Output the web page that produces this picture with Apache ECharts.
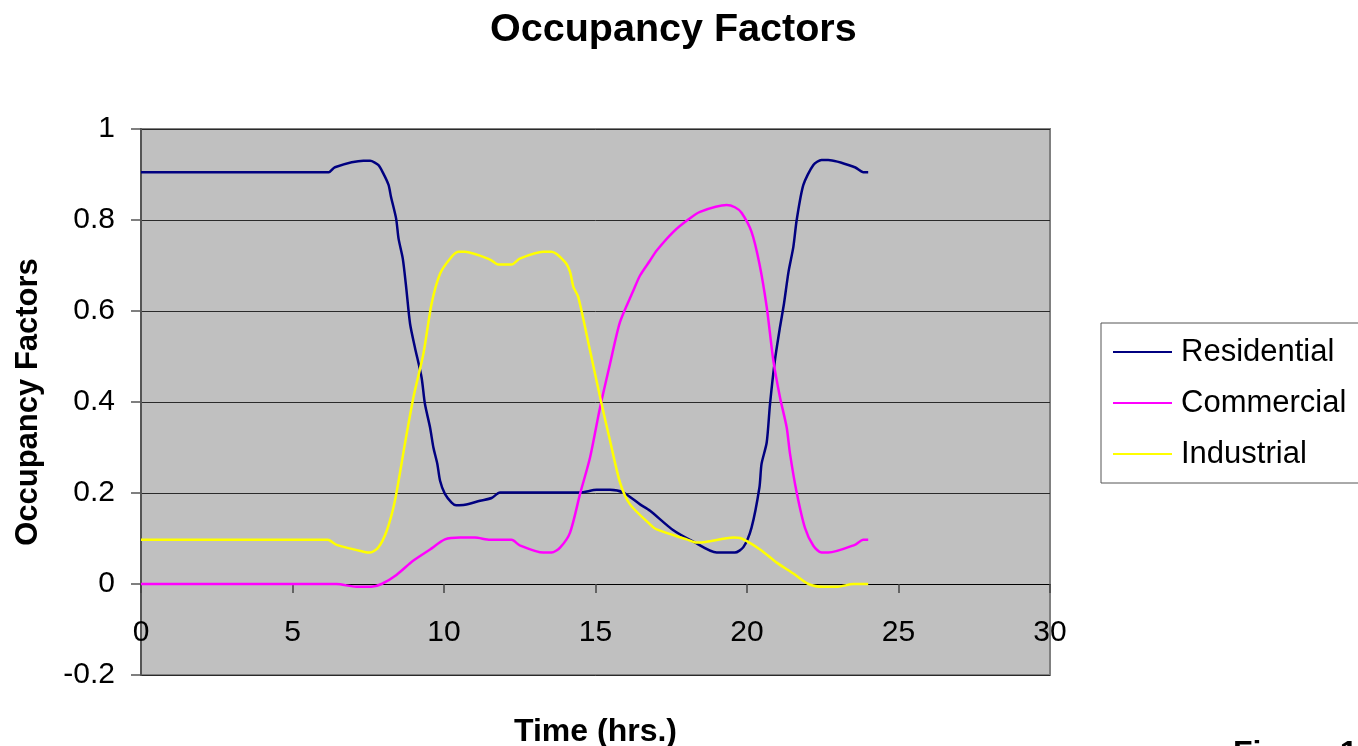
<!DOCTYPE html>
<html>
<head>
<meta charset="utf-8">
<script src="https://cdn.jsdelivr.net/npm/echarts@6/dist/echarts.min.js"></script>
<style>
html,body{margin:0;padding:0;background:#fff;}
#chart{width:1358px;height:746px;}
</style>
</head>
<body>
<div id="chart"></div>
<script>
// ---- data (hours, occupancy factor) ----
const seriesNames = ['Residential', 'Commercial', 'Industrial'];

const residentialHours = [0, 2, 4, 6, 6.2, 6.4, 7.34, 7.56, 7.83, 8.0, 8.17, 8.25, 8.42, 8.5, 8.64, 8.75, 8.88, 9.04, 9.26, 9.37, 9.54, 9.65, 9.78, 9.87, 10.03, 10.25, 10.4, 10.69, 11.19, 11.57, 11.85, 14.49, 15.04, 15.48, 15.92, 16.47, 16.8, 17.57, 18.23, 19.0, 19.6, 19.88, 20.15, 20.41, 20.48, 20.65, 20.76, 20.92, 21.09, 21.22, 21.37, 21.53, 21.64, 21.86, 22.19, 22.46, 22.68, 23.56, 23.84, 24];
const residentialValues = [0.905, 0.905, 0.905, 0.905, 0.905, 0.916, 0.930, 0.930, 0.921, 0.902, 0.877, 0.851, 0.803, 0.759, 0.715, 0.653, 0.572, 0.520, 0.454, 0.396, 0.344, 0.300, 0.264, 0.227, 0.198, 0.179, 0.173, 0.174, 0.183, 0.189, 0.201, 0.201, 0.207, 0.207, 0.201, 0.175, 0.161, 0.118, 0.093, 0.069, 0.069, 0.081, 0.124, 0.212, 0.264, 0.311, 0.396, 0.491, 0.565, 0.616, 0.686, 0.741, 0.800, 0.877, 0.921, 0.932, 0.932, 0.916, 0.905, 0.905];

const commercialHours = [0, 6.45, 7.1, 7.6, 7.94, 8.43, 8.98, 9.54, 10.03, 10.53, 11.02, 11.52, 12.23, 12.5, 13.28, 13.55, 13.83, 14.16, 14.49, 14.82, 15.15, 15.48, 15.81, 16.25, 16.47, 16.8, 17.02, 17.57, 18.06, 18.45, 19.33, 19.6, 19.82, 20.15, 20.41, 20.65, 20.87, 21.09, 21.31, 21.42, 21.64, 21.91, 22.19, 22.46, 22.68, 23.56, 23.84, 24];
const commercialValues = [0, 0, -0.006, -0.006, 0, 0.020, 0.051, 0.076, 0.098, 0.102, 0.102, 0.097, 0.097, 0.085, 0.069, 0.069, 0.080, 0.113, 0.198, 0.278, 0.388, 0.484, 0.576, 0.645, 0.678, 0.711, 0.733, 0.774, 0.801, 0.818, 0.833, 0.828, 0.816, 0.774, 0.704, 0.609, 0.491, 0.410, 0.344, 0.286, 0.201, 0.124, 0.084, 0.069, 0.069, 0.086, 0.097, 0.097];

const industrialHours = [0, 6.17, 6.46, 7.34, 7.56, 7.83, 8.11, 8.38, 8.71, 8.99, 9.32, 9.59, 9.87, 10.2, 10.47, 10.69, 11.52, 11.79, 12.23, 12.5, 13.28, 13.55, 13.99, 14.16, 14.27, 14.43, 14.82, 15.2, 15.48, 15.81, 16.14, 16.8, 17.02, 18.01, 18.34, 18.67, 19.55, 19.77, 20.43, 20.98, 21.53, 22.03, 22.52, 23.0, 23.51, 24];
const industrialValues = [0.097, 0.097, 0.086, 0.071, 0.069, 0.080, 0.117, 0.183, 0.308, 0.410, 0.506, 0.616, 0.682, 0.715, 0.730, 0.730, 0.713, 0.702, 0.702, 0.715, 0.730, 0.730, 0.708, 0.686, 0.653, 0.631, 0.513, 0.396, 0.315, 0.223, 0.175, 0.131, 0.120, 0.098, 0.091, 0.093, 0.102, 0.101, 0.076, 0.047, 0.023, 0, -0.006, -0.006, 0, 0];

const xTicks = [0, 5, 10, 15, 20, 25, 30];
const yTicks = [-0.2, 0, 0.2, 0.4, 0.6, 0.8, 1];

// ---- chart ----
const FONT = '"Liberation Sans", Arial, sans-serif';
const colors = ['#000080', '#ff00ff', '#ffff00'];
const pairs = (hs, vs) => hs.map((h, i) => [h, vs[i]]);
const allHours = [residentialHours, commercialHours, industrialHours];
const allValues = [residentialValues, commercialValues, industrialValues];

const chart = echarts.init(document.getElementById('chart'), null, {renderer: 'canvas'});
chart.setOption({
  animation: false,
  backgroundColor: '#ffffff',
  textStyle: {fontFamily: FONT},
  title: {
    text: 'Occupancy Factors',
    left: 485, top: 5,
    textStyle: {fontFamily: FONT, fontSize: 39.5, fontWeight: 'bold', color: '#000'}
  },
  legend: {
    orient: 'vertical',
    left: 1101, top: 323,
    padding: [12, 40, 12, 12],
    itemGap: 17,
    itemWidth: 59, itemHeight: 2,
    icon: 'rect',
    borderColor: '#555', borderWidth: 1,
    backgroundColor: '#fff',
    textStyle: {fontFamily: FONT, fontSize: 31, color: '#000', lineHeight: 34, padding: [0, 0, 0, 4]},
    data: seriesNames
  },
  grid: {
    left: 141, top: 129, width: 909, height: 546,
    show: true, backgroundColor: '#c0c0c0', borderColor: '#808080', borderWidth: 2,
    containLabel: false,
    outerBoundsMode: 'none'
  },
  xAxis: {
    type: 'value', min: xTicks[0], max: xTicks[xTicks.length - 1], interval: 5,
    name: 'Time (hrs.)', nameLocation: 'middle', nameGap: 41,
    nameTextStyle: {fontFamily: FONT, fontSize: 32, fontWeight: 'bold', color: '#000'},
    axisLine: {onZero: true, lineStyle: {color: '#000', width: 1}},
    axisTick: {show: true, inside: false, length: 9, lineStyle: {color: '#444', width: 1.5}},
    axisLabel: {margin: -57, fontFamily: FONT, fontSize: 30, color: '#000'},
    splitLine: {show: false}
  },
  yAxis: {
    type: 'value', min: yTicks[0], max: yTicks[yTicks.length - 1], interval: 0.2,
    name: 'Occupancy Factors', nameLocation: 'middle', nameGap: 97, nameRotate: 90,
    nameTextStyle: {fontFamily: FONT, fontSize: 31, fontWeight: 'bold', color: '#000'},
    axisLine: {show: true, onZero: false, lineStyle: {color: '#555', width: 2}},
    axisTick: {show: true, inside: false, length: 10, lineStyle: {color: '#555', width: 1.5}},
    axisLabel: {margin: 26, fontFamily: FONT, fontSize: 30, color: '#000'},
    splitLine: {show: true, lineStyle: {color: '#2a2a2a', width: 1}}
  },
  graphic: [{
    type: 'text', left: 1233, top: 738,
    style: {text: 'Figure 1', fontFamily: FONT, fontSize: 32, fontWeight: 'bold', fill: '#000'}
  }],
  series: seriesNames.map((name, i) => ({
    name: name,
    type: 'line',
    data: pairs(allHours[i], allValues[i]),
    showSymbol: false, symbol: 'none',
    smooth: 0.25,
    lineStyle: {color: colors[i], width: 2.5},
    itemStyle: {color: colors[i]}
  }))
});
</script>
</body>
</html>
